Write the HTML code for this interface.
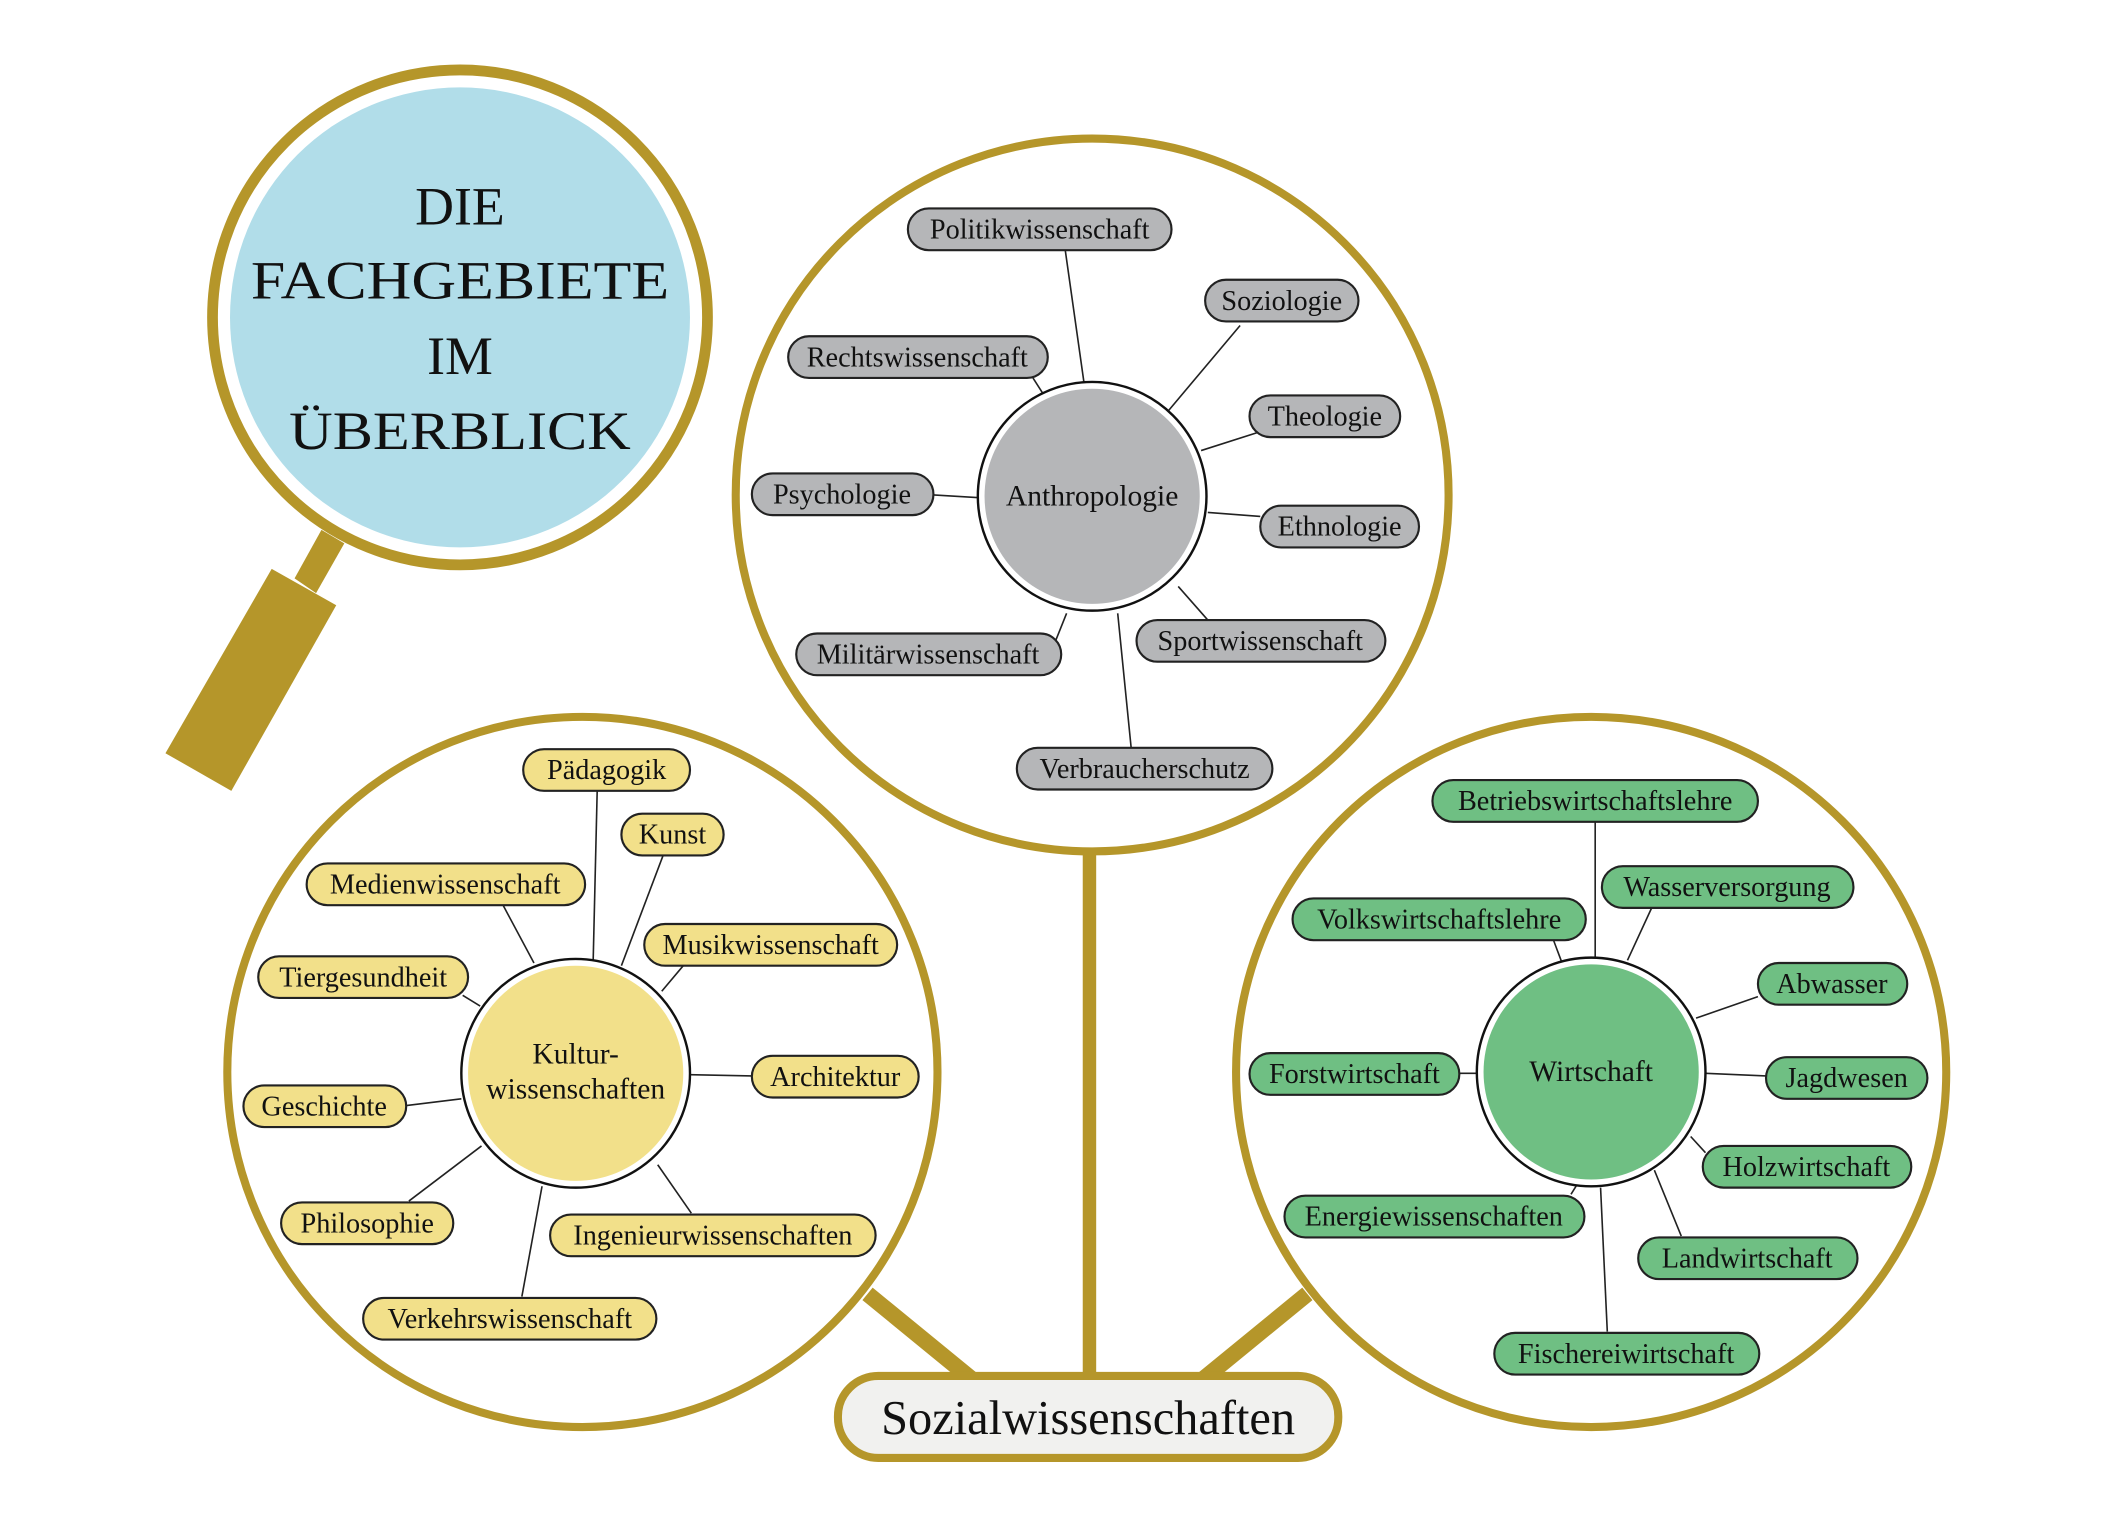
<!DOCTYPE html>
<html><head><meta charset="utf-8"><style>
html,body{margin:0;padding:0;background:#fff;}
svg{display:block;}
text{font-family:"Liberation Serif",serif;fill:#111;}
.p text{font-size:21px;text-anchor:middle;dominant-baseline:central;}
.ln{stroke:#222;stroke-width:1.2;}
</style></head><body>
<svg width="2111" height="1531" viewBox="0 0 1569.5 1138.3" preserveAspectRatio="none" xmlns="http://www.w3.org/2000/svg">
<polygon points="239,394 256,404 235,441 219,430" fill="#b5962a"/>
<polygon points="202,423 250,450 172,588 123,560" fill="#b5962a"/>
<circle cx="342" cy="236" r="184" fill="#fff" stroke="#b5962a" stroke-width="8"/>
<circle cx="342" cy="236" r="171" fill="#b1dde9"/>
<g style="font-size:40px" text-anchor="middle">
<text x="342" y="167">DIE</text>
<text x="342" y="222" textLength="311" lengthAdjust="spacingAndGlyphs">FACHGEBIETE</text>
<text x="342" y="278">IM</text>
<text x="342" y="334" textLength="254" lengthAdjust="spacingAndGlyphs">ÜBERBLICK</text>
</g>
<line x1="810" y1="630" x2="810" y2="1025" stroke="#b5962a" stroke-width="10"/>
<line x1="645" y1="962" x2="722" y2="1025" stroke="#b5962a" stroke-width="12"/>
<line x1="972" y1="962" x2="895" y2="1025" stroke="#b5962a" stroke-width="12"/>
<circle cx="812" cy="368" r="265" fill="#fff" stroke="#b5962a" stroke-width="6"/>
<circle cx="433" cy="797" r="264" fill="#fff" stroke="#b5962a" stroke-width="6"/>
<circle cx="1183" cy="797" r="264" fill="#fff" stroke="#b5962a" stroke-width="6"/>
<rect x="623" y="1023" width="372" height="61" rx="30" fill="#f1f1ef" stroke="#b5962a" stroke-width="6"/>
<text x="809" y="1066" text-anchor="middle" style="font-size:36px">Sozialwissenschaften</text>

<g class="ln">
<line x1="792" y1="186" x2="806" y2="285"/><line x1="922" y1="242" x2="869" y2="305"/>
<line x1="768" y1="281" x2="775" y2="292"/><line x1="940" y1="320" x2="893" y2="335"/>
<line x1="694" y1="368" x2="728" y2="370"/><line x1="937" y1="384" x2="898" y2="381"/>
<line x1="785" y1="476" x2="793" y2="456"/><line x1="898" y1="461" x2="876" y2="436"/>
<line x1="841" y1="556" x2="831" y2="456"/>
<line x1="444" y1="588" x2="441" y2="715"/><line x1="493" y1="636" x2="462" y2="718"/>
<line x1="374" y1="673" x2="397" y2="716"/><line x1="508" y1="718" x2="492" y2="737"/>
<line x1="344" y1="740" x2="357" y2="748"/><line x1="559" y1="800" x2="513" y2="799"/>
<line x1="302" y1="822" x2="343" y2="817"/><line x1="304" y1="893" x2="358" y2="852"/>
<line x1="514" y1="902" x2="489" y2="866"/><line x1="388" y1="964" x2="403" y2="882"/>
<line x1="1186" y1="611" x2="1186" y2="712"/><line x1="1228" y1="675" x2="1210" y2="714"/>
<line x1="1155" y1="699" x2="1161" y2="715"/><line x1="1307" y1="741" x2="1261" y2="757"/>
<line x1="1085" y1="798" x2="1098" y2="798"/><line x1="1313" y1="800" x2="1268" y2="798"/>
<line x1="1268" y1="857" x2="1257" y2="845"/><line x1="1168" y1="888" x2="1173" y2="880"/>
<line x1="1250" y1="919" x2="1230" y2="870"/><line x1="1195" y1="990" x2="1190" y2="883"/>
</g>

<circle cx="812" cy="369" r="85" fill="#fff" stroke="#111" stroke-width="1.8"/>
<circle cx="812" cy="369" r="80" fill="#b5b6b8"/>
<text x="812" y="369" text-anchor="middle" dominant-baseline="central" style="font-size:22px">Anthropologie</text>
<circle cx="428" cy="798" r="85" fill="#fff" stroke="#111" stroke-width="1.8"/>
<circle cx="428" cy="798" r="80" fill="#f2e08a"/>
<text x="428" y="784" text-anchor="middle" dominant-baseline="central" style="font-size:22px">Kultur-</text>
<text x="428" y="810" text-anchor="middle" dominant-baseline="central" style="font-size:22px">wissenschaften</text>
<circle cx="1183" cy="797" r="85" fill="#fff" stroke="#111" stroke-width="1.8"/>
<circle cx="1183" cy="797" r="80" fill="#6fbf83"/>
<text x="1183" y="797" text-anchor="middle" dominant-baseline="central" style="font-size:22px">Wirtschaft</text>

<g fill="#b5b6b8" stroke="#222" stroke-width="1.6">
<rect x="675" y="155" width="196" height="31" rx="15.5"/><rect x="896" y="208" width="114" height="31" rx="15.5"/>
<rect x="586" y="250" width="193" height="31" rx="15.5"/><rect x="929" y="294" width="112" height="31" rx="15.5"/>
<rect x="559" y="352" width="135" height="31" rx="15.5"/><rect x="937" y="376" width="118" height="31" rx="15.5"/>
<rect x="592" y="471" width="197" height="31" rx="15.5"/><rect x="845" y="461" width="185" height="31" rx="15.5"/>
<rect x="756" y="556" width="190" height="31" rx="15.5"/>
</g>
<g class="p">
<text x="773" y="171">Politikwissenschaft</text><text x="953" y="224">Soziologie</text>
<text x="682" y="266">Rechtswissenschaft</text><text x="985" y="310">Theologie</text>
<text x="626" y="368">Psychologie</text><text x="996" y="392">Ethnologie</text>
<text x="690" y="487">Militärwissenschaft</text><text x="937" y="477">Sportwissenschaft</text>
<text x="851" y="572">Verbraucherschutz</text>
</g>
<g fill="#f2e08a" stroke="#222" stroke-width="1.6">
<rect x="389" y="557" width="124" height="31" rx="15.5"/><rect x="462" y="605" width="76" height="31" rx="15.5"/>
<rect x="228" y="642" width="207" height="31" rx="15.5"/><rect x="479" y="687" width="188" height="31" rx="15.5"/>
<rect x="192" y="711" width="156" height="31" rx="15.5"/><rect x="559" y="785" width="124" height="31" rx="15.5"/>
<rect x="181" y="807" width="121" height="31" rx="15.5"/><rect x="209" y="894" width="128" height="31" rx="15.5"/>
<rect x="409" y="903" width="242" height="31" rx="15.5"/><rect x="270" y="965" width="218" height="31" rx="15.5"/>
</g>
<g class="p">
<text x="451" y="573">Pädagogik</text><text x="500" y="621">Kunst</text>
<text x="331" y="658">Medienwissenschaft</text><text x="573" y="703">Musikwissenschaft</text>
<text x="270" y="727">Tiergesundheit</text><text x="621" y="801">Architektur</text>
<text x="241" y="823">Geschichte</text><text x="273" y="910">Philosophie</text>
<text x="530" y="919">Ingenieurwissenschaften</text><text x="379" y="981">Verkehrswissenschaft</text>
</g>
<g fill="#6fbf83" stroke="#222" stroke-width="1.6">
<rect x="1065" y="580" width="242" height="31" rx="15.5"/><rect x="1191" y="644" width="187" height="31" rx="15.5"/>
<rect x="961" y="668" width="218" height="31" rx="15.5"/><rect x="1307" y="716" width="111" height="31" rx="15.5"/>
<rect x="929" y="783" width="156" height="31" rx="15.5"/><rect x="1313" y="786" width="120" height="31" rx="15.5"/>
<rect x="1266" y="852" width="155" height="31" rx="15.5"/><rect x="955" y="889" width="223" height="31" rx="15.5"/>
<rect x="1218" y="920" width="163" height="31" rx="15.5"/><rect x="1111" y="991" width="197" height="31" rx="15.5"/>
</g>
<g class="p">
<text x="1186" y="596">Betriebswirtschaftslehre</text><text x="1284" y="660">Wasserversorgung</text>
<text x="1070" y="684">Volkswirtschaftslehre</text><text x="1362" y="732">Abwasser</text>
<text x="1007" y="799">Forstwirtschaft</text><text x="1373" y="802">Jagdwesen</text>
<text x="1343" y="868">Holzwirtschaft</text><text x="1066" y="905">Energiewissenschaften</text>
<text x="1299" y="936">Landwirtschaft</text><text x="1209" y="1007">Fischereiwirtschaft</text>
</g>
</svg>
</body></html>
